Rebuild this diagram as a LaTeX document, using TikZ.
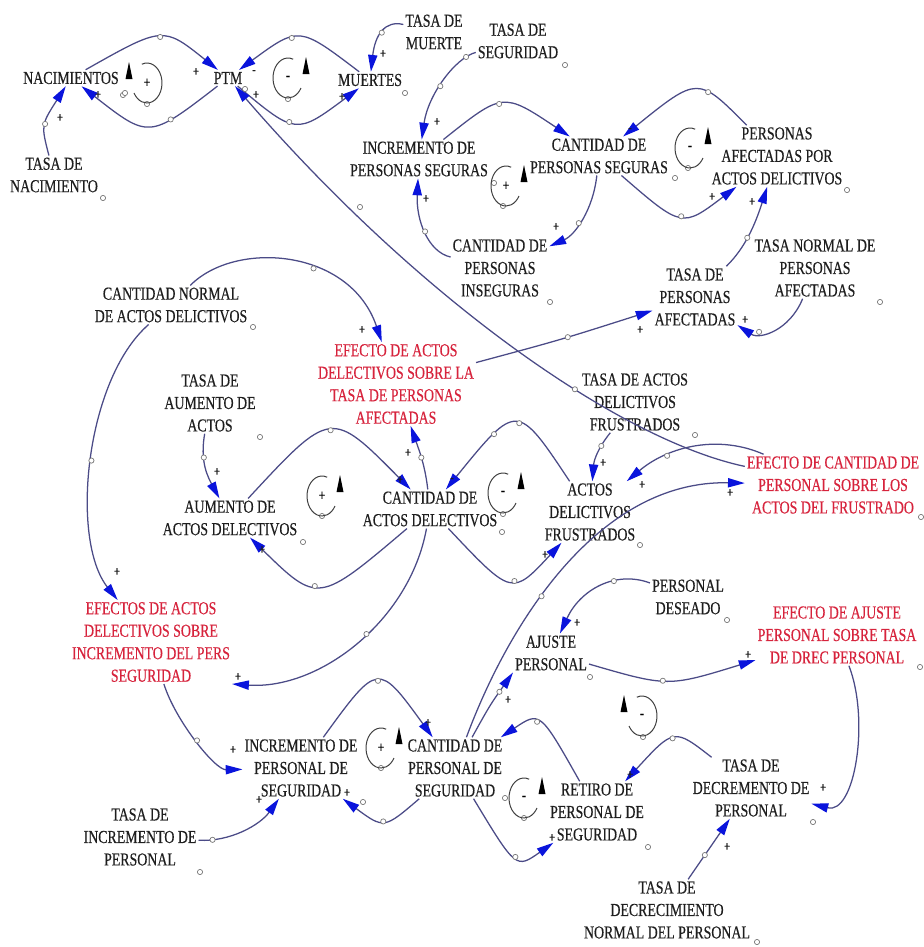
\documentclass[tikz,border=0pt]{standalone}
\usepackage{fontspec}
\newfontfamily\lblfont[FakeStretch=0.76,FakeBold=0.35]{Liberation Serif}
\usetikzlibrary{arrows.meta}
\definecolor{linec}{RGB}{75,75,135}
\definecolor{arrowc}{RGB}{10,20,220}
\definecolor{txtc}{RGB}{30,30,30}
\definecolor{redc}{RGB}{215,35,60}
\definecolor{dotc}{RGB}{120,120,120}
\begin{document}
\begin{tikzpicture}[x=0.25mm, y=-0.25mm,
  var/.style={font=\lblfont\fontsize{13pt}{16pt}\selectfont, text=txtc, align=center, inner sep=1.5pt, outer sep=0pt},
  effvar/.style={var, text=redc},
  lk/.style={draw=linec, line width=0.9pt, -{Triangle[length=4.2mm,width=2.3mm,color=arrowc]}},
  hdl/.style={circle, draw=dotc, fill=white, line width=0.5pt, inner sep=0pt, minimum size=1.3mm},
  pol/.style={font=\lblfont\fontsize{10pt}{10pt}\selectfont, text=txtc, inner sep=0pt},
  loopsign/.style={font=\lblfont\fontsize{11pt}{11pt}\selectfont, text=black, inner sep=0pt},
]
\fill[white] (0,0) rectangle (924,947);
\useasboundingbox (0,0) rectangle (924,947);

% ---------- variables ----------
\node[var] (nac)  at (71,78)   {NACIMIENTOS};
\node[var] (ptm)  at (228,78)  {PTM};
\node[var] (mue)  at (370,80)  {MUERTES};
\node[var] (tmue) at (434,32)  {TASA DE\\MUERTE};
\node[var] (tseg) at (518,41)  {TASA DE\\SEGURIDAD};
\node[var] (tnac) at (54,175)  {TASA DE\\NACIMIENTO};
\node[var] (ips)  at (419,159) {INCREMENTO DE\\PERSONAS SEGURAS};
\node[var] (cps)  at (599,156) {CANTIDAD DE\\PERSONAS SEGURAS};
\node[var] (paf)  at (777,156) {PERSONAS\\AFECTADAS POR\\ACTOS DELICTIVOS};
\node[var] (cpi)  at (500,268) {CANTIDAD DE\\PERSONAS\\INSEGURAS};
\node[var] (tpa)  at (695,297) {TASA DE\\PERSONAS\\AFECTADAS};
\node[var] (tnpa) at (815,268) {TASA NORMAL DE\\PERSONAS\\AFECTADAS};
\node[var] (cnad) at (171,305) {CANTIDAD NORMAL\\DE ACTOS DELICTIVOS};
\node[effvar] (eatpa) at (396,384) {EFECTO DE ACTOS\\DELECTIVOS SOBRE LA\\TASA DE PERSONAS\\AFECTADAS};
\node[var] (taa)  at (210,403) {TASA DE\\AUMENTO DE\\ACTOS};
\node[var] (tadf) at (635,402) {TASA DE ACTOS\\DELICTIVOS\\FRUSTRADOS};
\node[var] (aad)  at (230,518) {AUMENTO DE\\ACTOS DELECTIVOS};
\node[var] (cad)  at (430,509) {CANTIDAD DE\\ACTOS DELECTIVOS};
\node[var] (adf)  at (590,512) {ACTOS\\DELICTIVOS\\FRUSTRADOS};
\node[effvar] (ecp) at (833,485) {EFECTO DE CANTIDAD DE\\PERSONAL SOBRE LOS\\ACTOS DEL FRUSTRADO};
\node[effvar] (eaip) at (151,642) {EFECTOS DE ACTOS\\DELECTIVOS SOBRE\\INCREMENTO DEL PERS\\SEGURIDAD};
\node[var] (pdes) at (688,597) {PERSONAL\\DESEADO};
\node[var] (ajp)  at (551,653) {AJUSTE\\PERSONAL};
\node[effvar] (eaj) at (837,635) {EFECTO DE AJUSTE\\PERSONAL SOBRE TASA\\DE DREC PERSONAL};
\node[var] (ipsg) at (301,768) {INCREMENTO DE\\PERSONAL DE\\SEGURIDAD};
\node[var] (cpsg) at (455,768) {CANTIDAD DE\\PERSONAL DE\\SEGURIDAD};
\node[var] (rps)  at (597,812) {RETIRO DE\\PERSONAL DE\\SEGURIDAD};
\node[var] (tdp)  at (751,788) {TASA DE\\DECREMENTO DE\\PERSONAL};
\node[var] (tip)  at (140,837) {TASA DE\\INCREMENTO DE\\PERSONAL};
\node[var] (tdnp) at (667,910) {TASA DE\\DECRECIMIENTO\\NORMAL DEL PERSONAL};

% ---------- causal links ----------
\draw[lk] (nac) .. controls (163,26) .. node[hdl,pos=.5](h1){} (ptm);
\draw[lk] (ptm) .. controls (149,139) .. node[hdl,pos=.3](h2){} (nac);
\draw[lk] (mue) .. controls (299,26) .. node[hdl,pos=.58](h3){} (ptm);
\draw[lk] (ptm) .. controls (296,135) .. node[hdl,pos=.42](h4){} (mue);
\draw[lk] (tmue) .. controls (385,20) and (375,35) .. node[hdl,pos=.5](h5){} (mue);
\draw[lk] (tnac) .. controls (41,125) .. node[hdl,pos=.5](h6){} (nac);
\draw[lk] (tseg) .. controls (455,58) and (428,95) .. node[hdl,pos=.15](h7a){} node[hdl,pos=.55](h7b){} (ips);
\draw[lk] (ecp) .. controls (620,440) and (420,300) .. node[hdl,pos=.38](h9){} (ptm);
\draw[lk] (ips) .. controls (503,92) .. node[hdl,pos=.45](h10){} (cps);
\draw[lk] (cps) .. controls (593,210) and (575,235) .. node[hdl,pos=.55](h11){} (cpi);
\draw[lk] (cpi) .. controls (428,252) and (416,220) .. node[hdl,pos=.5](h12){} (ips);
\draw[lk] (paf) .. controls (698,76) .. node[hdl,pos=.35](h13){} (cps);
\draw[lk] (cps) .. controls (682,228) .. node[hdl,pos=.5](h14){} (paf);
\draw[lk] (tpa) .. controls (745,248) and (755,225) .. node[hdl,pos=.45](h15){} (paf);
\draw[lk] (cnad) .. controls (235,240) and (350,248) .. node[hdl,pos=.6](h16){} (eatpa);
\draw[lk] (cnad) .. controls (85,380) and (70,540) .. node[hdl,pos=.5](h17){} (eaip);
\draw[lk] (taa) .. controls (201,455) and (204,470) .. node[hdl,pos=.4](h18){} (aad);
\draw[lk] (aad) .. controls (331,409) .. node[hdl,pos=.5](h19){} (cad);
\draw[lk] (cad) .. controls (318,604) .. node[hdl,pos=.55](h20){} (aad);
\draw[lk] (cad) .. controls (425,465) and (419,450) .. node[hdl,pos=.5](h21){} (eatpa);
\draw[lk] (adf) .. controls (517,402) .. node[hdl,pos=.45](h22a){} node[hdl,pos=.7](h22b){} (cad);
\draw[lk] (cad) .. controls (512,596) .. node[hdl,pos=.55](h23){} (adf);
\draw[lk] (tadf) .. controls (598,448) and (594,460) .. node[hdl,pos=.3](h24){} (adf);
\draw[lk] (ecp) .. controls (720,435) and (670,445) .. node[hdl,pos=.7](h25){} (adf);
\draw[lk] (cpsg) .. controls (510,620) and (600,480) .. node[hdl,pos=.4](h26){} (ecp);
\draw[lk] (cpsg) .. controls (490,705) .. node[hdl,pos=.75](h27){} (ajp.south west);
\draw[lk] (pdes) .. controls (615,570) and (580,590) .. node[hdl,pos=.35](h28){} (ajp);
\draw[lk] (ajp) .. controls (668,687) .. node[hdl,pos=.45](h29){} (eaj);
\draw[lk] (eaj) .. controls (870,720) and (855,815) .. (tdp);
\draw[lk] (tdp) .. controls (674,728) .. node[hdl,pos=.5](h31){} (rps);
\draw[lk] (rps) .. controls (540,711) .. node[hdl,pos=.55](h32){} (cpsg);
\draw[lk] (cpsg) .. controls (516,869) .. node[hdl,pos=.5](h33){} (rps);
\draw[lk] (tdnp) -- node[hdl,pos=.4](h34){} (tdp);
\draw[lk] (ipsg) .. controls (378,662) .. node[hdl,pos=.5](h35){} (cpsg);
\draw[lk] (cpsg) .. controls (384,829) .. node[hdl,pos=.5](h36){} (ipsg);
\draw[lk] (tip) .. controls (230,842) and (260,825) .. node[hdl,pos=.15](h37){} (ipsg);
\draw[lk] (eaip) .. controls (175,720) and (215,770) .. node[hdl,pos=.5](h38){} (ipsg);
\draw[lk] (cad) .. controls (410,620) and (320,690) .. node[hdl,pos=.45](h39){} (eaip.south east);
\draw[lk] (eatpa) .. controls (560,340) .. node[hdl,pos=.55](h40){} (tpa);
\draw[lk] (tnpa) .. controls (790,330) and (760,340) .. node[hdl,pos=.7](h41){} (tpa);

% ---------- polarity signs ----------
\foreach \px/\py/\s [count=\i] in {196/72/+, 98/95/+, 254/72/-, 256/95/+, 342/97/+, 383/54/+,
    60/118/+, 437/122/+, 630/130/-, 556/227/+, 426/199/+, 752/202/+, 712/197/+, 362/330/+,
    117/572/+, 217/472/+, 400/480/+, 262/550/+, 408/453/+, 452/480/-, 545/555/+, 603/463/+,
    642/485/+, 730/493/+, 508/700/+, 577/623/+, 748/655/+, 823/788/+, 630/775/+, 552/838/+,
    727/847/+, 428/723/+, 347/793/+, 259/800/+, 233/750/+, 238/677/+, 640/330/+, 745/320/+}
  \node[pol] (pol\i) at (\px,\py) {\s};

% ---------- variable markers and loop handles ----------
\foreach \dx/\dy in {123/95, 245/89, 405/93, 103/198, 565/65, 847/190, 550/302, 880/302,
    253/327, 260/437, 695/435, 303/542, 502/532, 640/545, 921/517, 727/620, 590/677,
    920/667, 648/847, 813/822, 757/942, 200/872, 363/802, 360/207, 147/104, 125/93,
    288/99, 503/206, 494/183, 688/168, 675/178, 322/516, 503/514, 381/768, 524/818,
    505/798, 643/737}
  \draw[dotc, fill=white, line width=0.5pt] (\dx,\dy) circle[radius=2.6];

% ---------- loop markers ----------
\foreach \lx/\ly/\s/\sd [count=\i] in {147/83/+/-1, 288/78/-/1, 506/186/+/1, 690/148/-/1,
    322/496/+/1, 503/493/-/1, 381/748/+/1, 524/798/-/1, 642/716/-/-1}{
  \draw[line width=0.7pt, black!75] (\lx,\ly) ++({20*\sd-90}:15 and 20)
     arc[start angle={20*\sd-90}, end angle={-90-240*\sd}, x radius=15, y radius=20];
  \fill[black] (\lx+18*\sd,\ly-21) -- (\lx+18*\sd-3.5,\ly-4) -- (\lx+18*\sd+3.5,\ly-4) -- cycle;
  \node[loopsign] (loop\i) at (\lx,\ly) {\s};
}
\end{tikzpicture}
\end{document}
